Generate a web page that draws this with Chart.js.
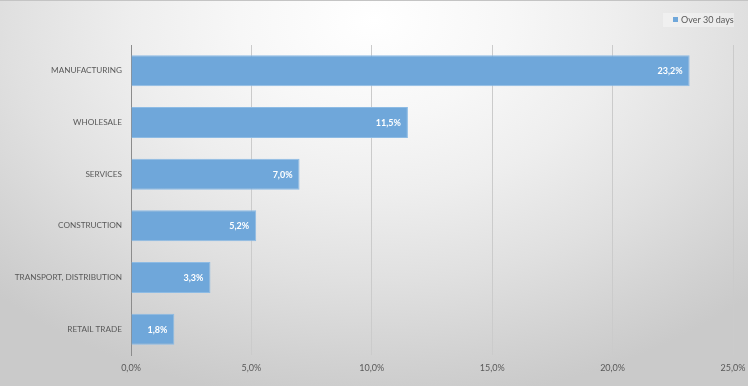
<!DOCTYPE html>
<html>
<head>
<meta charset="utf-8">
<script src="https://cdn.jsdelivr.net/npm/chart.js@4"></script>
<style>
  html, body { margin: 0; padding: 0; }
  #wrap {
    width: 748px; height: 386px; position: relative; box-sizing: border-box;
    border-top: 1px solid #c4c4c4;
    background: radial-gradient(ellipse 72% 100% at 50% 5%, #ffffff 0%, #f7f7f7 25%, #eeeeee 45%, #e0e0e0 68%, #d2d2d2 88%, #cacaca 100%);
  }
  canvas { display: block; position: absolute; left: 0; top: 0; }
</style>
</head>
<body>
<div id="wrap"><canvas id="c" width="748" height="386"></canvas></div>
<script>
const categories = ["MANUFACTURING", "WHOLESALE", "SERVICES", "CONSTRUCTION", "TRANSPORT, DISTRIBUTION", "RETAIL TRADE"];
const seriesName = "Over 30 days";
const overThirtyDays = [23.2, 11.5, 7.0, 5.2, 3.3, 1.8];
const xTicks = [0, 5, 10, 15, 20, 25];

const fmt = v => v.toFixed(1).replace('.', ',') + '%';
const FONT = 'Lato, "Open Sans", sans-serif';

const labelPlugin = {
  id: 'barLabels',
  afterDatasetsDraw(chart) {
    const ctx = chart.ctx;
    const meta = chart.getDatasetMeta(0);
    ctx.save();
    ctx.font = 'bold 9px ' + FONT;
    ctx.fillStyle = '#ffffff';
    ctx.textAlign = 'right';
    ctx.textBaseline = 'middle';
    meta.data.forEach((bar, i) => {
      ctx.fillText(fmt(chart.data.datasets[0].data[i]), bar.x - 7, bar.y + 0.5);
    });
    ctx.restore();
  }
};

const legendPlugin = {
  id: 'customLegend',
  afterDraw(chart) {
    const ctx = chart.ctx;
    const ds = chart.data.datasets[0];
    ctx.save();
    ctx.fillStyle = 'rgba(255,255,255,0.35)';
    ctx.fillRect(663, 12, 71, 14);
    ctx.fillStyle = ds.backgroundColor;
    ctx.fillRect(673, 16, 5, 5);
    ctx.font = '9px ' + FONT;
    ctx.fillStyle = '#595959';
    ctx.textAlign = 'left';
    ctx.textBaseline = 'middle';
    ctx.fillText(ds.label, 681, 19);
    ctx.restore();
  }
};

new Chart(document.getElementById('c'), {
  type: 'bar',
  data: {
    labels: categories,
    datasets: [{
      label: seriesName,
      data: overThirtyDays,
      backgroundColor: '#6fa7da',
      borderColor: '#8dbbe4',
      borderWidth: 1,
      borderSkipped: 'start',
      barPercentage: 0.6,
      categoryPercentage: 1.0
    }]
  },
  options: {
    indexAxis: 'y',
    responsive: false,
    animation: false,
    devicePixelRatio: 1,
    layout: { padding: { top: 44, right: 15, left: 0, bottom: 0 } },
    plugins: { legend: { display: false }, tooltip: { enabled: false } },
    scales: {
      x: {
        min: 0, max: 25,
        afterBuildTicks(scale) { scale.ticks = xTicks.map(v => ({ value: v })); },
        afterFit(scale) { scale.height = 32; scale.paddingLeft = 0; scale.paddingRight = 0; },
        ticks: {
          callback: v => fmt(v),
          font: { family: FONT, size: 9 },
          color: '#595959',
          padding: 8,
          maxRotation: 0
        },
        grid: { color: '#cbcbcb', drawTicks: false, lineWidth: 1 },
        border: { display: false }
      },
      y: {
        afterFit(scale) { scale.width = 131; },
        ticks: {
          font: { family: FONT, size: 8.2 },
          color: '#595959',
          padding: 9
        },
        grid: { display: false, drawTicks: false },
        border: { display: true, color: '#8c8c8c', width: 1 }
      }
    }
  },
  plugins: [labelPlugin, legendPlugin]
});
</script>
</body>
</html>
